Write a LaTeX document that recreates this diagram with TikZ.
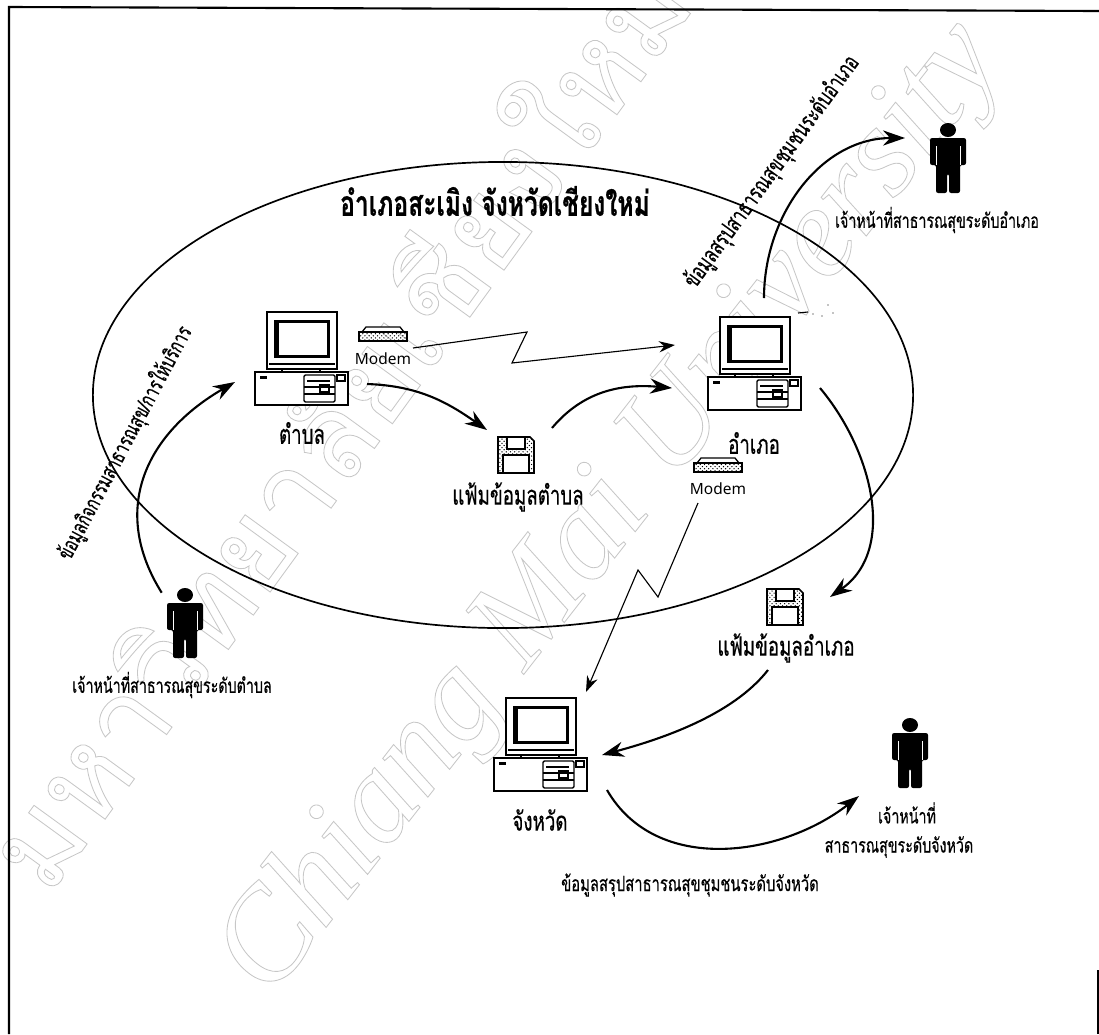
\documentclass[tikz,border=0pt]{standalone}
\usepackage{fontspec}
\usetikzlibrary{arrows.meta,shapes.geometric,patterns}
\newfontfamily\thaifont[Script=Thai,FakeStretch=0.7,FakeBold=0.5]{Loma}
\newfontfamily\waterthai[Script=Thai]{Loma}
\newfontfamily\modemfont{Noto Sans}
\newfontfamily\waterlatin{Liberation Serif}
\newcommand{\wmtext}[1]{\special{pdf:code 1 Tr 0.6 w 0.78 G}#1\special{pdf:code 0 Tr 0 G}}
\tikzset{
  flowarrow/.style={line width=1.5pt, -{Stealth[length=0.55cm,width=0.38cm]}},
  linkarrow/.style={line width=0.8pt, -{Stealth[length=0.4cm,width=0.28cm]}},
  pcnode/.style={inner sep=0, minimum width=3.3cm, minimum height=2.8cm},
  personnode/.style={inner sep=0, minimum width=1.15cm, minimum height=1.6cm},
  disknode/.style={inner sep=0, minimum width=0.95cm, minimum height=0.9cm},
  modemnode/.style={inner sep=0, minimum width=1.2cm, minimum height=0.4cm},
  thailabel/.style={inner sep=0, font=\thaifont\fontsize{14.5}{17}\selectfont},
  iconlabel/.style={inner sep=0, font=\thaifont\fontsize{19}{22}\selectfont},
  bigthai/.style={inner sep=0, font=\thaifont\fontsize{25}{28}\selectfont},
  modemlabel/.style={inner sep=0, font=\modemfont\fontsize{11}{13}\selectfont},
  pcstation/.pic={
    % monitor
    \draw[line width=1.3pt, fill=white] (-35,-48) rectangle (35,9);
    \fill (-28,-40) rectangle (28,-2);
    \fill[white] (-23,-37) rectangle (25,-5);
    \draw[line width=0.8pt] (-33,4) -- (33,4);
    \draw[line width=1pt] (-20,9) -- (-20,12) (18,9) -- (18,12);
    % base unit
    \draw[line width=1.3pt, fill=white] (-47,12) rectangle (46,45);
    \fill (-42,16) rectangle (-35,19);
    \draw[line width=1pt, rounded corners=1] (2,15) rectangle (33,42);
    \draw[line width=1pt] (5,21) -- (28,21) (2,27) -- (33,27) (2,34) -- (33,34);
    \draw[line width=0.8pt] (18,25) rectangle (27,32);
    \draw[line width=0.9pt] (35,15) rectangle (43,21);
  },
  personicon/.pic={
    \fill (0,-30) ellipse [x radius=8, y radius=7];
    \fill[rounded corners=1.5] (-18,-22) -- (18,-22) -- (18,5) -- (12,5) -- (12,33)
      -- (1,33) -- (1,14) -- (-1,14) -- (-1,33) -- (-12,33) -- (-12,5) -- (-18,5) -- cycle;
    \draw[white, line width=0.5pt] (-12,-14) -- (-12,5) (12,-14) -- (12,5);
  },
  diskicon/.pic={
    \draw[line width=1.2pt, pattern=crosshatch dots] (-18,-18) -- (14,-18) -- (18,-14) -- (18,18) -- (-18,18) -- cycle;
    \draw[line width=1pt, fill=white] (-9,-18) rectangle (9,-6);
    \draw[line width=1pt, fill=white] (-13,0) rectangle (13,18);
  },
  modemicon/.pic={
    \draw[line width=0.9pt, fill=white] (-21,-2) -- (-17,-7) -- (17,-7) -- (21,-2) -- cycle;
    \draw[line width=1pt, pattern=crosshatch dots] (-24,-2) rectangle (24,7);
  },
}
\begin{document}
\begin{tikzpicture}[x=0.025cm, y=-0.025cm]
  \useasboundingbox (0,0) rectangle (1099,1034);
  % watermark
  \node[inner sep=0, rotate=54] (wmthai) at (330,420) {\waterthai\fontsize{84}{92}\selectfont\wmtext{มหาวิทยาลัยเชียงใหม่}};
  \node[inner sep=0, rotate=52] (wmlatin) at (613,510) {\waterlatin\itshape\fontsize{92}{105}\selectfont\wmtext{Chiang Mai University}};
  % frame
  \draw[line width=1.5pt] (9,1034) -- (9,7) -- (1099,11);
  \draw[line width=1pt] (1098,970) -- (1098,1034);
  % district oval
  \node[draw, line width=1.2pt, ellipse, inner sep=0, minimum width=20.5cm, minimum height=11.65cm] (oval) at (503,395) {};
  \node[bigthai] (title) at (495,201) {\bfseries อำเภอสะเมิง จังหวัดเชียงใหม่};
  % computers
  \node[pcnode] (tambon) at (302,360) {};
  \node[pcnode] (amphoe) at (755,365) {};
  \node[pcnode] (changwat) at (541,746) {};
  \foreach \n in {tambon, amphoe, changwat}
    \pic at (\n) {pcstation};
  \node[iconlabel] (tambonlabel) at (302,433) {ตำบล};
  \node[iconlabel] (amphoelabel) at (754,443) {อำเภอ};
  \node[iconlabel] (changwatlabel) at (540,820) {จังหวัด};
  % disks
  \node[disknode] (diskA) at (516,455) {};
  \node[disknode] (diskB) at (785,607) {};
  \foreach \n in {diskA, diskB}
    \pic at (\n) {diskicon};
  \node[iconlabel] (diskAlabel) at (518,497) {แฟ้มข้อมูลตำบล};
  \node[iconlabel] (diskBlabel) at (786,648) {แฟ้มข้อมูลอำเภอ};
  % modems
  \node[modemnode] (modemA) at (383,334) {};
  \node[modemnode] (modemB) at (718,465) {};
  \foreach \n in {modemA, modemB}
    \pic at (\n) {modemicon};
  \node[modemlabel] (modemAlabel) at (383,359) {Modem};
  \node[modemlabel] (modemBlabel) at (718,489) {Modem};
  % people
  \node[personnode] (personA) at (185,625) {};
  \node[personnode] (personB) at (948,160) {};
  \node[personnode] (personC) at (910,755) {};
  \foreach \n in {personA, personB, personC}
    \pic at (\n) {personicon};
  \node[thailabel] (personAlabel) at (172,685) {เจ้าหน้าที่สาธารณสุขระดับตำบล};
  \node[thailabel] (personBlabel) at (937,220) {เจ้าหน้าที่สาธารณสุขระดับอำเภอ};
  \node[thailabel] (personClabelA) at (907,813) {เจ้าหน้าที่};
  \node[thailabel] (personClabelB) at (899,847) {สาธารณสุขระดับจังหวัด};
  % data captions
  \node[thailabel, font=\thaifont\fontsize{15.4}{18}\selectfont, rotate=62] (captionA) at (125,443) {ข้อมูลกิจกรรมสาธารณสุข/การให้บริการ};
  \node[thailabel, font=\thaifont\fontsize{16.5}{19}\selectfont, rotate=54] (captionB) at (772,172) {ข้อมูลสรุปสาธารณสุขชุมชนระดับอำเภอ};
  \node[thailabel, font=\thaifont\fontsize{15}{18}\selectfont] (captionC) at (690,885) {ข้อมูลสรุปสาธารณสุขชุมชนระดับจังหวัด};
  % flows
  \draw[flowarrow] (personA.north west) to [out=122, in=210, looseness=1.15] ([shift={(-67,22)}]tambon.center);
  \draw[flowarrow] ([shift={(65,24)}]tambon.center) to [out=-2, in=145] ([shift={(-29,-25)}]diskA.center);
  \draw[flowarrow] ([shift={(36,-27)}]diskA.center) to [out=50, in=175] ([shift={(-83,23)}]amphoe.center);
  \draw[flowarrow] ([shift={(9,-67)}]amphoe.center) to [out=90, in=180] ([shift={(-43,-22)}]personB.center);
  \draw[flowarrow] ([shift={(65,23)}]amphoe.center) to [out=-50, in=35] ([shift={(45,-10)}]diskB.center);
  \draw[flowarrow] ([shift={(-18,22)}]diskBlabel.center) to [out=-128, in=15, looseness=0.8] ([shift={(61,9)}]changwat.center);
  \draw[flowarrow] ([shift={(66,44)}]changwat.center) to [out=-60, in=218] ([shift={(-51,41)}]personC.center);
  % dial-up links
  \draw[linkarrow] ([shift={(30,-11)}]modemAlabel.center) -- (527,332) -- (512,363) -- ([shift={(-80,-20)}]amphoe.center);
  \draw[linkarrow] ([shift={(-20,14)}]modemBlabel.center) -- (658,597) -- (638,570) -- ([shift={(45,-54)}]changwat.center);
  % specks
  \draw[line width=0.8pt] (798,313) -- (808,312);
  \foreach \p in {(813,314),(822,316),(828,305),(833,313)}
    \fill \p circle [radius=0.7];
\end{tikzpicture}
\end{document}
